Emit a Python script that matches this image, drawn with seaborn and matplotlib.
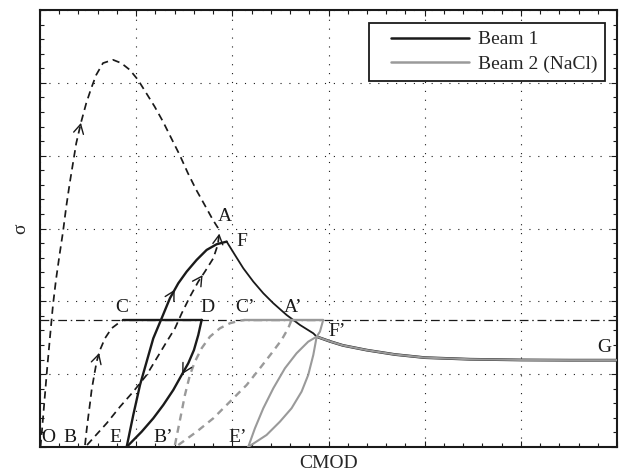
import numpy as np
import pandas as pd
import matplotlib
matplotlib.use("Agg")
import matplotlib.pyplot as plt
from matplotlib.lines import Line2D
from matplotlib.legend_handler import HandlerLine2D
from matplotlib.ticker import MultipleLocator, NullFormatter
import seaborn as sns

# ---------------- data ----------------
# Beam 1 - first loading O -> peak -> A (dashed)
b1_load_x = [0.005, 0.021, 0.047, 0.073, 0.104, 0.135, 0.166, 0.203, 0.239, 0.273, 0.309, 0.343,
             0.377, 0.429, 0.481, 0.533, 0.585, 0.655, 0.759, 0.845, 0.933, 1.019, 1.105, 1.192,
             1.279, 1.365, 1.452, 1.538, 1.625, 1.712, 1.798, 1.850, 1.868]
b1_load_y = [0.0, 0.234, 0.646, 1.058, 1.511, 1.951, 2.294, 2.637, 2.953, 3.301, 3.622, 3.897,
             4.172, 4.468, 4.721, 4.927, 5.110, 5.271, 5.316, 5.271, 5.179, 5.041, 4.859, 4.674,
             4.468, 4.240, 4.011, 3.760, 3.530, 3.324, 3.118, 3.010, 2.960]
# Beam 1 - B -> A (dashed)
b1_BA_x = [0.489, 0.696, 0.832, 0.970, 1.109, 1.213, 1.317, 1.403, 1.473, 1.559, 1.646, 1.715,
           1.802, 1.848, 1.868]
b1_BA_y = [0.027, 0.330, 0.553, 0.760, 0.989, 1.217, 1.445, 1.628, 1.834, 2.063, 2.271, 2.408,
           2.591, 2.774, 2.960]
# Beam 1 - B -> C (dashed)
b1_BC_x = [0.468, 0.485, 0.502, 0.520, 0.537, 0.561, 0.589, 0.624, 0.676, 0.745, 0.814, 0.866]
b1_BC_y = [0.027, 0.234, 0.416, 0.600, 0.783, 0.966, 1.172, 1.332, 1.493, 1.630, 1.699, 1.745]
# Beam 1 - C -> D (solid)
b1_CD_x = [0.866, 1.681]
b1_CD_y = [1.745, 1.745]
# Beam 1 - D -> E (solid)
b1_DE_x = [1.681, 1.646, 1.601, 1.542, 1.473, 1.386, 1.282, 1.178, 1.057, 0.901]
b1_DE_y = [1.745, 1.538, 1.332, 1.150, 0.989, 0.783, 0.577, 0.394, 0.210, 0.0]
# Beam 1 - E -> F (solid)
b1_EF_x = [0.901, 0.970, 1.040, 1.109, 1.178, 1.265, 1.351, 1.438, 1.525, 1.629, 1.733, 1.837, 1.941]
b1_EF_y = [0.0, 0.440, 0.852, 1.172, 1.492, 1.767, 2.042, 2.248, 2.408, 2.569, 2.706, 2.784, 2.820]
# Beam 1 - F -> F' (solid)
b1_FF_x = [1.941, 2.027, 2.114, 2.218, 2.322, 2.426, 2.564, 2.703, 2.842, 2.877]
b1_FF_y = [2.820, 2.637, 2.454, 2.271, 2.111, 1.974, 1.813, 1.676, 1.561, 1.515]
# Common tail F' -> G
tail_x = [2.877, 3.015, 3.150, 3.399, 3.690, 4.002, 4.470, 5.000, 5.509, 6.0]
tail_y = [1.515, 1.450, 1.395, 1.330, 1.270, 1.227, 1.205, 1.195, 1.192, 1.192]

# Beam 2 (NaCl) - B' -> C' (dashed)
b2_BC_x = [1.403, 1.438, 1.473, 1.507, 1.559, 1.611, 1.681, 1.767, 1.871, 1.975, 2.079, 2.131]
b2_BC_y = [0.027, 0.257, 0.486, 0.714, 0.989, 1.172, 1.356, 1.515, 1.630, 1.699, 1.735, 1.745]
# Beam 2 - C' -> D' (solid)
b2_CD_x = [2.131, 2.945]
b2_CD_y = [1.745, 1.745]
# Beam 2 - B' -> A' (dashed)
b2_BA_x = [1.438, 1.629, 1.802, 1.975, 2.149, 2.287, 2.408, 2.512, 2.581, 2.616]
b2_BA_y = [0.027, 0.210, 0.394, 0.622, 0.852, 1.081, 1.287, 1.470, 1.630, 1.745]
# Beam 2 - D' -> F' -> E' (solid)
b2_DE_x = [2.945, 2.911, 2.877, 2.842, 2.789, 2.720, 2.616, 2.495, 2.356, 2.165]
b2_DE_y = [1.745, 1.584, 1.515, 1.264, 0.989, 0.760, 0.532, 0.348, 0.165, 0.0]
# Beam 2 - E' -> F' (solid)
b2_EF_x = [2.165, 2.235, 2.322, 2.426, 2.547, 2.668, 2.789, 2.877]
b2_EF_y = [0.0, 0.257, 0.532, 0.806, 1.081, 1.287, 1.446, 1.515]

ref_level = 1.745   # dash-dot horizontal level

point_labels = ["O", "B", "E", "B\u2019", "E\u2019", "C", "D", "C\u2019", "A\u2019", "F\u2019", "G", "A", "F"]
label_x = [0.083, 0.312, 0.780, 1.279, 2.058, 0.852, 1.746, 2.131, 2.630, 3.087, 5.873, 1.923, 2.100]
label_y = [0.137, 0.137, 0.137, 0.137, 0.137, 1.909, 1.909, 1.909, 1.909, 1.580, 1.360, 3.159, 2.816]

legend_labels = ["Beam 1", "Beam 2 (NaCl)"]

# ---------------- styling ----------------
sns.set_style("ticks")
plt.rcParams["font.family"] = ["Liberation Serif", "DejaVu Serif"]

BLACK = "#1a1a1a"
GRAY = "#9a9a9a"

fig = plt.figure(figsize=(6.2, 4.75), dpi=100)
ax = fig.add_axes([40 / 620, 28 / 475, 577 / 620, 437 / 475])

# reference dash-dot line
ax.axhline(ref_level, color=BLACK, lw=0.9, ls=(0, (7, 3, 1.2, 3)), zorder=2)


def draw(xs, ys, color, lw, dashes=None, z=3):
    df = pd.DataFrame({"x": xs, "y": ys})
    sns.lineplot(data=df, x="x", y="y", ax=ax, sort=False, estimator=None,
                 color=color, lw=lw, legend=False, zorder=z)
    line = ax.lines[-1]
    if dashes is not None:
        line.set_dashes(dashes)
    line.set_solid_joinstyle("round")
    return line


# Beam 1
draw(b1_load_x, b1_load_y, BLACK, 1.25, dashes=(4.2, 2.8))
draw(b1_BA_x, b1_BA_y, BLACK, 1.25, dashes=(4.2, 2.8))
draw(b1_BC_x, b1_BC_y, BLACK, 1.25, dashes=(4.2, 2.8))
draw(b1_CD_x, b1_CD_y, BLACK, 1.7)
draw(b1_DE_x, b1_DE_y, BLACK, 1.7)
draw(b1_EF_x, b1_EF_y, BLACK, 1.7)
draw(b1_FF_x, b1_FF_y, BLACK, 1.3)
draw(tail_x, tail_y, BLACK, 2.0)
# Beam 2
draw(b2_BC_x, b2_BC_y, GRAY, 1.7, dashes=(3.0, 2.3))
draw(b2_BA_x, b2_BA_y, GRAY, 1.7, dashes=(3.0, 2.3))
draw(b2_CD_x, b2_CD_y, GRAY, 1.7)
draw(b2_DE_x, b2_DE_y, GRAY, 1.5)
draw(b2_EF_x, b2_EF_y, GRAY, 1.5)
draw(tail_x, tail_y, GRAY, 1.5, z=4)


def arrow_at_y(xs, ys, yt, color):
    for i in range(len(xs) - 1):
        y0, y1 = ys[i], ys[i + 1]
        if y0 != y1 and (y0 - yt) * (y1 - yt) <= 0:
            f = (yt - y0) / (y1 - y0)
            x = xs[i] + f * (xs[i + 1] - xs[i])
            dx, dy = xs[i + 1] - xs[i], ys[i + 1] - ys[i]
            n = np.hypot(dx, dy)
            eps = 0.03
            ax.annotate("", xy=(x, yt), xytext=(x - dx / n * eps, yt - dy / n * eps),
                        arrowprops=dict(arrowstyle="->,head_length=0.55,head_width=0.3",
                                        color=color, lw=1.0, shrinkA=0, shrinkB=0,
                                        mutation_scale=12), zorder=5)
            return


arrow_at_y(b1_load_x, b1_load_y, 4.45, BLACK)
arrow_at_y(b1_BC_x, b1_BC_y, 1.29, BLACK)
arrow_at_y(b1_BA_x, b1_BA_y, 2.36, BLACK)
arrow_at_y(b1_BA_x, b1_BA_y, 2.93, BLACK)
arrow_at_y(b1_EF_x, b1_EF_y, 2.16, BLACK)
arrow_at_y(b1_DE_x, b1_DE_y, 1.0, BLACK)

for t, x, y in zip(point_labels, label_x, label_y):
    ax.text(x, y, t, ha="center", va="center", fontsize=14, color=BLACK, zorder=6)

# axes
ax.set_xlim(0, 6)
ax.set_ylim(0, 6)
ax.xaxis.set_major_locator(MultipleLocator(1))
ax.yaxis.set_major_locator(MultipleLocator(1))
ax.xaxis.set_minor_locator(MultipleLocator(0.2))
ax.yaxis.set_minor_locator(MultipleLocator(0.2))
ax.xaxis.set_major_formatter(NullFormatter())
ax.yaxis.set_major_formatter(NullFormatter())
ax.tick_params(which="both", direction="in", top=True, right=True, color=BLACK, width=0.8)
ax.tick_params(which="major", length=4)
ax.tick_params(which="minor", length=3)
ax.grid(True, which="major", color=BLACK, lw=0.8, ls=(0, (1, 7)))
for s in ax.spines.values():
    s.set_linewidth(1.5)
    s.set_color(BLACK)
    s.set_visible(True)

ax.set_xlabel("CMOD", fontsize=14, labelpad=2.5)
ax.set_ylabel("\u03c3", fontsize=14, labelpad=4)

handles = [Line2D([], [], color=BLACK, lw=1.8), Line2D([], [], color=GRAY, lw=1.8)]
leg = ax.legend(handles, legend_labels, loc="upper right", bbox_to_anchor=(0.979, 0.970),
                borderaxespad=0, fontsize=14, handlelength=4.75, handletextpad=0.45,
                labelspacing=0.35, borderpad=0.4, fancybox=False, framealpha=1,
                edgecolor=BLACK,
                handler_map={Line2D: HandlerLine2D(xpad=0.75)})
leg.get_frame().set_linewidth(1.3)

fig.savefig("out.png", dpi=100)
